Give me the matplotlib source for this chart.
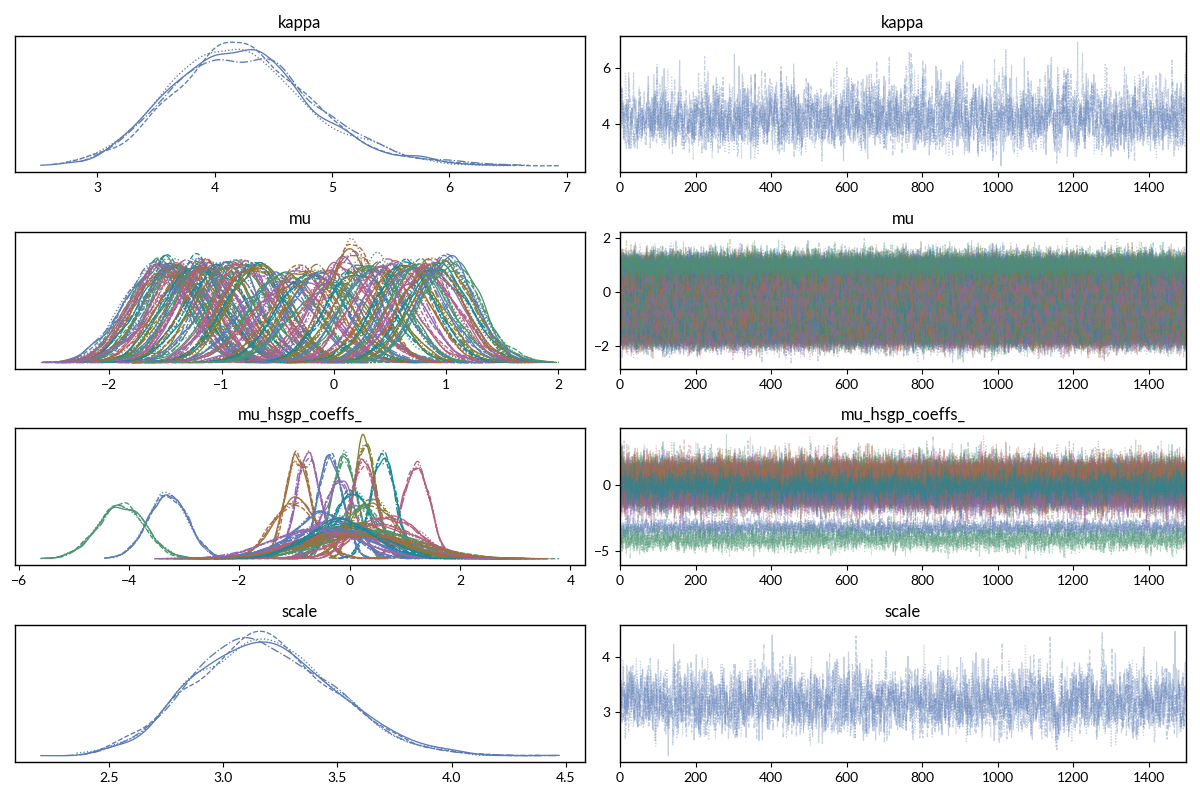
import numpy as np
import matplotlib
matplotlib.use("Agg")
import matplotlib.pyplot as plt

# MCMC draw settings
n_chains = 4
n_draws = 1500
chain_styles = ["-", "--", ":", "-."]
palette = ["#5a7bb5", "#4a9470", "#b65f7c", "#9467b0", "#a56c3c", "#18899a", "#877d32"]

# posterior summaries (log-scale for the positive params)
kappa_logmean, kappa_logsd = np.log(4.18), 0.14
scale_logmean, scale_logsd = np.log(3.17), 0.095

mu_means = [-1.60, -1.57, -1.54, -1.51, -1.48, -1.45, -1.42, -1.40, -1.37, -1.34,
            -1.31, -1.28, -1.25, -1.22, -1.19, -1.16, -1.13, -1.10, -1.06, -1.02,
            -0.96, -0.92, -0.86, -0.80, -0.76, -0.72, -0.69, -0.66, -0.50, -0.44,
            -0.38, -0.32, -0.26, -0.20, -0.14, -0.08, -0.02, 0.04, 0.10, 0.16,
            0.22, 0.28, 0.34, 0.38, 0.44, 0.52, 0.58, 0.63, 0.68, 0.72,
            0.76, 0.80, 0.84, 0.88, 0.92, 0.96, 1.00, 1.03]
mu_sds = [0.28, 0.27, 0.28, 0.27, 0.28, 0.27, 0.28, 0.27, 0.28, 0.27,
          0.34, 0.28, 0.27, 0.28, 0.27, 0.28, 0.27, 0.28, 0.27, 0.28,
          0.28, 0.27, 0.28, 0.27, 0.28, 0.27, 0.28, 0.27, 0.32, 0.30,
          0.34, 0.29, 0.28, 0.30, 0.28, 0.29, 0.34, 0.28, 0.27, 0.235,
          0.28, 0.27, 0.28, 0.27, 0.28, 0.27, 0.28, 0.27, 0.28, 0.27,
          0.28, 0.27, 0.28, 0.27, 0.28, 0.27, 0.26, 0.27]

hsgp_means = [-3.3, -4.15, 1.2, -0.75, -0.95, 0.6, 0.28, -0.35, -0.1, 0.25,
              -0.2, -1.0, 0.05, 0.4, -0.5, 0.15, 0.7, -0.3, 0.0, 0.1,
              -0.1, 0.2, 0.3, -0.2, 0.05, 0.0, -0.05, 0.15, -0.4, 0.45,
              0.6, -0.6, 0.25, -0.15]
hsgp_sds = [0.36, 0.42, 0.245, 0.225, 0.225, 0.225, 0.20, 0.225, 0.225, 0.24,
            0.30, 0.40, 0.35, 0.40, 0.50, 0.45, 0.55, 0.60, 0.75, 0.80,
            0.85, 0.90, 0.80, 0.90, 0.95, 0.85, 0.70, 0.65, 0.75, 0.85,
            0.70, 0.80, 0.95, 0.60]

rng = np.random.default_rng(11)


def ar_draws(means, sds, phi):
    # correlated chains around the read-off summaries
    means = np.asarray(means)[:, None, None]
    sds = np.asarray(sds)[:, None, None]
    e = rng.normal(size=(means.shape[0], n_chains, n_draws))
    x = np.empty_like(e)
    x[..., 0] = e[..., 0]
    c = np.sqrt(1 - phi ** 2)
    for t in range(1, n_draws):
        x[..., t] = phi * x[..., t - 1] + c * e[..., t]
    return means + sds * x


kappa = np.exp(ar_draws([kappa_logmean], [kappa_logsd], 0.45))
scale = np.exp(ar_draws([scale_logmean], [scale_logsd], 0.45))
mu = ar_draws(mu_means, mu_sds, 0.2)
hsgp = ar_draws(hsgp_means, hsgp_sds, 0.1)


def kde(x, n=512):
    lo, hi = x.min(), x.max()
    counts, edges = np.histogram(x, bins=n, range=(lo, hi))
    centers = 0.5 * (edges[1:] + edges[:-1])
    dx = edges[1] - edges[0]
    q75, q25 = np.percentile(x, [75, 25])
    bw = 0.9 * min(x.std(), (q75 - q25) / 1.34) * len(x) ** -0.2
    sig = bw / dx
    k = np.arange(-int(4 * sig) - 1, int(4 * sig) + 2)
    kern = np.exp(-0.5 * (k / sig) ** 2)
    dens = np.convolve(counts, kern, mode="same")[:n]
    dens = dens / (dens.sum() * dx)
    return centers, dens


variables = [("kappa", kappa), ("mu", mu), ("mu_hsgp_coeffs_", hsgp), ("scale", scale)]
row_box = [(36, 172), (232, 369), (428, 565), (625, 762)]

plt.rcParams["font.family"] = ["Lato", "DejaVu Sans"]

fig = plt.figure(figsize=(12, 8), dpi=100)
W, H = 1200, 800

for (name, data), (top, bot) in zip(variables, row_box):
    b = 1 - bot / H
    h = (bot - top) / H
    ax_k = fig.add_axes([15 / W, b, (585 - 15) / W, h])
    ax_t = fig.add_axes([620 / W, b, (1186 - 620) / W, h])
    for i in range(data.shape[0]):
        col = palette[i % len(palette)]
        for c in range(n_chains):
            xs, ys = kde(data[i, c])
            ax_k.plot(xs, ys, color=col, lw=0.95, ls=chain_styles[c])
            ax_t.plot(np.arange(n_draws), data[i, c], color=col, lw=0.8,
                      ls=chain_styles[c], alpha=0.35)
    ax_k.set_yticks([])
    ax_t.set_xlim(0, n_draws - 1)
    for ax in (ax_k, ax_t):
        ax.set_title(name, fontsize=12, pad=6)
        ax.tick_params(labelsize=10, length=3.5, width=0.8)
        for s in ax.spines.values():
            s.set_linewidth(1.0)

fig.savefig("out.png", dpi=100)
